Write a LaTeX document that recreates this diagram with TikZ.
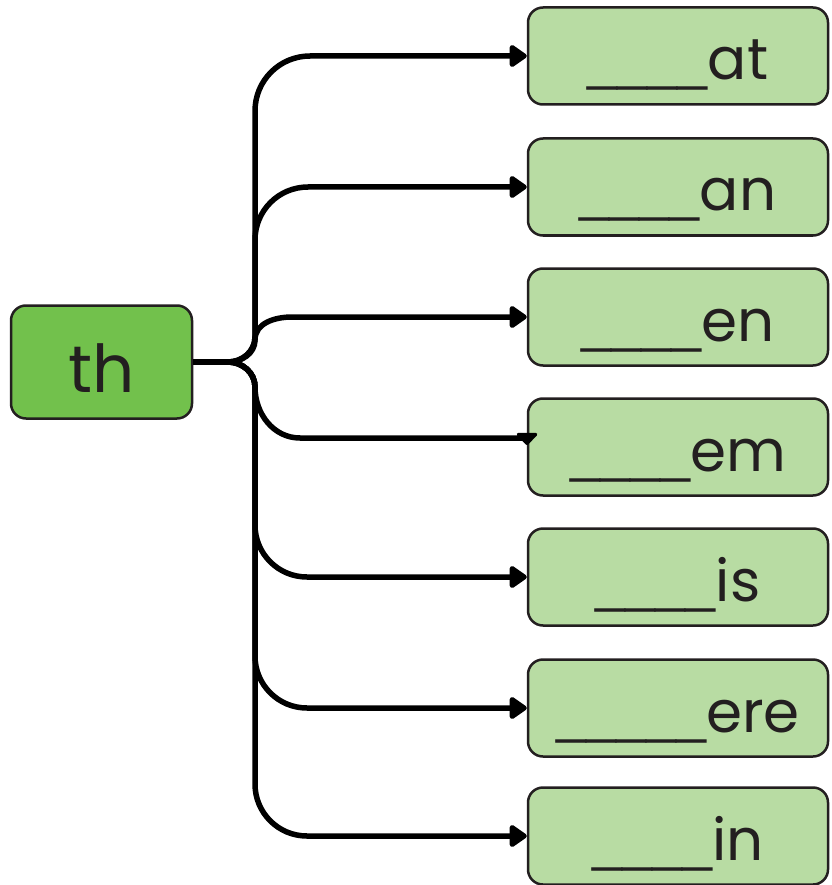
\documentclass[tikz,border=0pt]{standalone}
\usepackage{fontspec}
\setmainfont{Poppins}
\newfontfamily\blankfont{Liberation Sans}
\usetikzlibrary{arrows.meta}
\definecolor{rootGreen}{RGB}{114,193,76}
\definecolor{leafGreen}{RGB}{184,220,163}
\definecolor{inkDark}{RGB}{35,31,32}
\newcommand{\blanks}[1]{{\blankfont\fontsize{54}{58}\selectfont#1}}
\tikzset{
  wordbox/.style={
    rectangle, rounded corners=15pt, draw=inkDark, line width=2.5pt,
    text=inkDark, inner sep=0pt
  },
  branchArrow/.style={-{Triangle[length=19pt,width=25pt,round]}, line width=5.5pt, color=black}
}

\begin{document}
\begin{tikzpicture}[x=1pt, y=1pt,
          root/.style={wordbox, fill=rootGreen, minimum width=181pt, minimum height=113pt,
                       text height=60pt, text depth=0pt, font=\fontsize{66}{70}\selectfont},
          leaf/.style={wordbox, fill=leafGreen, minimum width=300pt, minimum height=97pt,
                       text height=52pt, text depth=4pt, font=\fontsize{58}{62}\selectfont},
          link/.style={branchArrow}]
        \useasboundingbox (0,0) rectangle (831,-885);
        \node[root] (th)  at (101.5,-362) {th};
        \node[leaf] (at)  at (678,-56)  {\blanks{\_\_\_\_}at};
        \node[leaf] (an)  at (678,-187) {\blanks{\_\_\_\_}an};
        \node[leaf] (en)  at (678,-317) {\blanks{\_\_\_\_}en};
        \node[leaf] (em)  at (678,-447) {\blanks{\_\_\_\_}em};
        \node[leaf] (is)  at (678,-577) {\blanks{\_\_\_\_}is};
        \node[leaf] (ere) at (678,-708) {\blanks{\_\_\_\_\_}ere};
        \node[leaf] (in)  at (678,-836) {\blanks{\_\_\_\_}in};
        \draw[link] (th.east) -- (228,-362) to[out=0,in=-90] (255,-337)
                    -- (255,-111) to[out=90,in=180] (310,-56)  -- (at.west);
        \draw[link] (th.east) -- (228,-362) to[out=0,in=-90] (255,-337)
                    -- (255,-240) to[out=90,in=180] (308,-187) -- (an.west);
        \draw[link] (th.east) -- (228,-362) to[out=0,in=-90] (255,-340)
                    to[out=90,in=180] (292,-317) -- (en.west);
        \draw[link, -{Triangle[length=13pt,width=24pt,round]}]
                    (th.east) -- (228,-362) to[out=0,in=90] (255,-387)
                    to[out=-90,in=180] (300,-438) -- (527,-438) -- (527,-445);
        \draw[link] (th.east) -- (228,-362) to[out=0,in=90] (255,-387)
                    -- (255,-525) to[out=-90,in=180] (307,-577) -- (is.west);
        \draw[link] (th.east) -- (228,-362) to[out=0,in=90] (255,-387)
                    -- (255,-656) to[out=-90,in=180] (307,-708) -- (ere.west);
        \draw[link] (th.east) -- (228,-362) to[out=0,in=90] (255,-387)
                    -- (255,-784) to[out=-90,in=180] (307,-836) -- (in.west);
      \end{tikzpicture}
\end{document}
